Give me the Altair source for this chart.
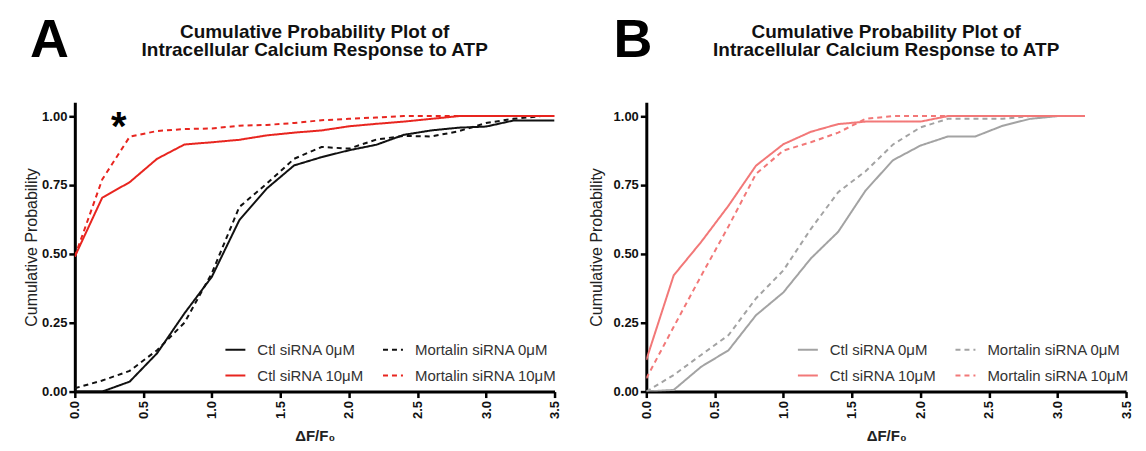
import altair as alt
import pandas as pd

# ---------------- data ----------------
SERIES = ["Ctl siRNA 0μM", "Mortalin siRNA 0μM", "Ctl siRNA 10μM", "Mortalin siRNA 10μM"]

X_A = [0.0, 0.2, 0.4, 0.6, 0.8, 1.0, 1.2, 1.4, 1.6, 1.8, 2.0, 2.2, 2.4, 2.6, 2.8, 3.0, 3.2, 3.4, 3.5]
A_CTL_0 = [0.0, 0.0, 0.036, 0.139, 0.284, 0.417, 0.622, 0.737, 0.821, 0.851, 0.876, 0.896, 0.932, 0.948, 0.958, 0.962, 0.984, 0.984, 0.984]
A_MORT_0 = [0.012, 0.04, 0.075, 0.15, 0.25, 0.43, 0.67, 0.755, 0.845, 0.888, 0.882, 0.915, 0.928, 0.926, 0.945, 0.975, 0.99, 1.0, 1.0]
A_CTL_10 = [0.49, 0.704, 0.76, 0.845, 0.897, 0.905, 0.914, 0.93, 0.94, 0.948, 0.963, 0.972, 0.98, 0.99, 1.0, 1.0, 1.0, 1.0, 1.0]
A_MORT_10 = [0.49, 0.77, 0.925, 0.946, 0.953, 0.955, 0.965, 0.968, 0.975, 0.985, 0.99, 0.995, 1.0, 1.0, 1.0, 1.0, 1.0, 1.0, 1.0]

X_B = [0.0, 0.2, 0.4, 0.6, 0.8, 1.0, 1.2, 1.4, 1.6, 1.8, 2.0, 2.2, 2.4, 2.6, 2.8, 3.0, 3.2]
B_CTL_0 = [0.0, 0.006, 0.09, 0.15, 0.277, 0.36, 0.483, 0.58, 0.73, 0.84, 0.893, 0.926, 0.926, 0.965, 0.99, 1.0, 1.0]
B_MORT_0 = [0.0, 0.06, 0.133, 0.205, 0.338, 0.44, 0.59, 0.724, 0.80, 0.897, 0.959, 0.99, 0.99, 0.99, 1.0, 1.0, 1.0]
B_CTL_10 = [0.115, 0.422, 0.543, 0.675, 0.82, 0.898, 0.943, 0.971, 0.98, 0.98, 0.98, 1.0, 1.0, 1.0, 1.0, 1.0, 1.0]
B_MORT_10 = [0.048, 0.235, 0.42, 0.60, 0.79, 0.875, 0.905, 0.94, 0.99, 1.0, 1.0, 1.0, 1.0, 1.0, 1.0, 1.0, 1.0]

X_TICKS = [0.0, 0.5, 1.0, 1.5, 2.0, 2.5, 3.0, 3.5]
Y_TICKS = [0.0, 0.25, 0.5, 0.75, 1.0]

PANEL_LABELS = ["A", "B"]
TITLE_LINES = ["Cumulative Probability Plot of", "Intracellular Calcium Response to ATP"]
STAR_X = [0.32]
STAR_Y = [0.98]
STAR_TEXT = ["*"]

COLORS_A = ["#111111", "#111111", "#e8251f", "#e8251f"]
COLORS_B = ["#a3a3a3", "#a3a3a3", "#f27878", "#f27878"]
DASHES = [[1, 0], [5, 4], [1, 0], [5, 4]]

FONT = "Liberation Sans"
W, H = 481, 290


def long_df(xs, cols):
    rows = []
    for name, ys in zip(SERIES, cols):
        for x, y in zip(xs, ys):
            rows.append({"x": x, "y": y, "series": name})
    return pd.DataFrame(rows)


def panel(df, colors, label, label_x, legend_x, legend_y, ytitle_pad, extra=None):
    base = alt.Chart(df)
    leg = dict(title=None, orient="none", legendX=legend_x, legendY=legend_y,
               columns=2, direction="horizontal")
    lines = base.mark_line(strokeWidth=2, clip=True).encode(
        x=alt.X("x:Q", scale=alt.Scale(domain=[0, 3.5], nice=False, zero=False),
                axis=alt.Axis(values=X_TICKS, format=".1f", title="ΔF/F₀",
                              labelAngle=270, labelAlign="right", labelBaseline="middle",
                              labelPadding=3, titlePadding=10,
                              titleFontWeight="bold", titleFontSize=15)),
        y=alt.Y("y:Q", scale=alt.Scale(domain=[0, 1.05], nice=False),
                axis=alt.Axis(values=Y_TICKS, format=".2f", title="Cumulative Probability",
                              labelPadding=2, titlePadding=ytitle_pad,
                              titleFontWeight="normal", titleFontSize=16)),
        color=alt.Color("series:N", scale=alt.Scale(domain=SERIES, range=colors),
                        legend=alt.Legend(**leg)),
        strokeDash=alt.StrokeDash("series:N", scale=alt.Scale(domain=SERIES, range=DASHES),
                                  legend=alt.Legend(**leg)),
        detail="series:N",
    )
    lab = alt.Chart(pd.DataFrame({"t": [label]})).mark_text(
        font=FONT, fontSize=54, fontWeight="bold", align="left", baseline="alphabetic", color="#000"
    ).encode(text="t:N", x=alt.value(label_x), y=alt.value(-45))
    t1 = alt.Chart(pd.DataFrame({"t": [TITLE_LINES[0]]})).mark_text(
        font=FONT, fontSize=19, fontWeight="bold", align="center", baseline="alphabetic", color="#111"
    ).encode(text="t:N", x=alt.value(W / 2), y=alt.value(-65))
    t2 = alt.Chart(pd.DataFrame({"t": [TITLE_LINES[1]]})).mark_text(
        font=FONT, fontSize=19, fontWeight="bold", align="center", baseline="alphabetic", color="#111"
    ).encode(text="t:N", x=alt.value(W / 2), y=alt.value(-46))
    layers = [lines, lab, t1, t2]
    if extra is not None:
        layers.extend(extra)
    return alt.layer(*layers).properties(width=W, height=H)


dfA = long_df(X_A, [A_CTL_0, A_MORT_0, A_CTL_10, A_MORT_10])
dfB = long_df(X_B, [B_CTL_0, B_MORT_0, B_CTL_10, B_MORT_10])

star = alt.Chart(pd.DataFrame({"x": STAR_X, "y": STAR_Y, "t": STAR_TEXT})).mark_text(
    font=FONT, fontSize=40, fontWeight="bold", baseline="middle", dy=6, color="#000"
).encode(x="x:Q", y="y:Q", text="t:N")

# invisible anchor that fixes the top-left extent of the figure
anchor = alt.Chart(pd.DataFrame({"a": [0]})).mark_rule(strokeWidth=0, opacity=0).encode(
    x=alt.value(-67), y=alt.value(-94), y2=alt.value(-93)
)

chartA = panel(dfA, COLORS_A, PANEL_LABELS[0], -45, 150, 237, 2, [star, anchor])
chartB = panel(dfB, COLORS_B, PANEL_LABELS[1], -33, 151, 237, 9)

chart = alt.hconcat(chartA, chartB, spacing=92, bounds="flush").resolve_scale(
    color="independent", strokeDash="independent"
).properties(
    padding={"left": 0, "top": 0, "right": 5, "bottom": 5}
).configure_view(stroke=None).configure_axis(
    domainColor="#000", domainWidth=3, tickColor="#000", tickWidth=2.5, tickSize=6,
    labelFont=FONT, labelFontSize=13, labelFontWeight="bold", labelColor="#111",
    titleFont=FONT, titleColor="#222",
    grid=False,
).configure_legend(
    labelFont=FONT, labelFontSize=15, labelColor="#333", symbolType="stroke",
    symbolSize=400, symbolStrokeWidth=2, columnPadding=15, rowPadding=7,
    labelOffset=11, padding=0,
)

chart.save("out.html", embed_options={"renderer": "svg", "actions": False})
